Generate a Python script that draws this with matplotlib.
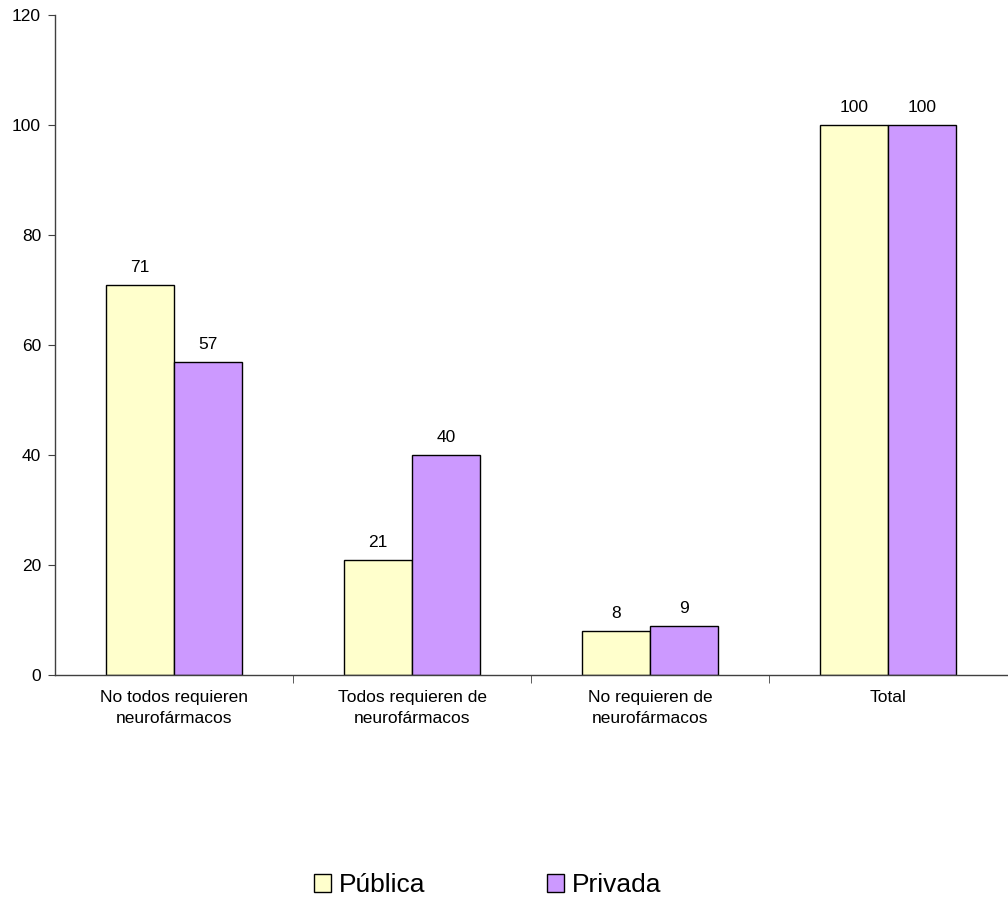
import numpy as np
import matplotlib
matplotlib.use("Agg")
import matplotlib.pyplot as plt
from matplotlib.patches import Patch

# Data
CATEGORIES = ["No todos requieren\nneurofármacos",
              "Todos requieren de\nneurofármacos",
              "No requieren de\nneurofármacos",
              "Total"]
PUBLICA = [71, 21, 8, 100]
PRIVADA = [57, 40, 9, 100]
SERIES_NAMES = ["Pública", "Privada"]
Y_TICKS = [0, 20, 40, 60, 80, 100, 120]

COLOR_PUB = "#FFFFCC"
COLOR_PRIV = "#CC99FF"
AXIS_COLOR = "#404040"

plt.rcParams["font.family"] = ["Liberation Sans", "DejaVu Sans"]


def plot_chart():
    fig = plt.figure(figsize=(10.08, 9.01), dpi=100)
    ax = fig.add_axes([55 / 1008, 1 - 675 / 901, 952 / 1008, 660 / 901])

    x = np.arange(len(CATEGORIES))
    w = 0.285

    bars1 = ax.bar(x - w / 2, PUBLICA, w, color=COLOR_PUB,
                   edgecolor="black", linewidth=1.0)
    bars2 = ax.bar(x + w / 2, PRIVADA, w, color=COLOR_PRIV,
                   edgecolor="black", linewidth=1.0)

    for bars in (bars1, bars2):
        ax.bar_label(bars, padding=7, fontsize=12.5)

    ax.set_xlim(-0.5, len(CATEGORIES) - 0.5)
    ax.set_ylim(0, 120)
    ax.set_yticks(Y_TICKS)
    ax.tick_params(axis="y", labelsize=12.5, length=5, color=AXIS_COLOR,
                   direction="out", pad=5)

    ax.set_xticks(x)
    ax.set_xticklabels(CATEGORIES, fontsize=12.5, linespacing=1.5)
    ax.tick_params(axis="x", length=0, pad=11)
    ax.set_xticks(np.arange(0.5, len(CATEGORIES) - 0.5, 1), minor=True)
    ax.tick_params(axis="x", which="minor", length=6, color=AXIS_COLOR,
                   direction="out")

    for side in ("top", "right"):
        ax.spines[side].set_visible(False)
    for side in ("left", "bottom"):
        ax.spines[side].set_color(AXIS_COLOR)
        ax.spines[side].set_linewidth(1.0)

    handles = [Patch(facecolor=COLOR_PUB, edgecolor="black", linewidth=1.0),
               Patch(facecolor=COLOR_PRIV, edgecolor="black", linewidth=1.0)]
    fig.legend(handles, SERIES_NAMES, loc="center",
               bbox_to_anchor=(488 / 1008, 1 - 885 / 901), ncol=2,
               frameon=False, fontsize=19, handlelength=0.65,
               handleheight=0.65, handletextpad=0.3, columnspacing=4.6,
               borderaxespad=0, borderpad=0)

    fig.savefig("out.png", dpi=100)


if __name__ == "__main__":
    plot_chart()
